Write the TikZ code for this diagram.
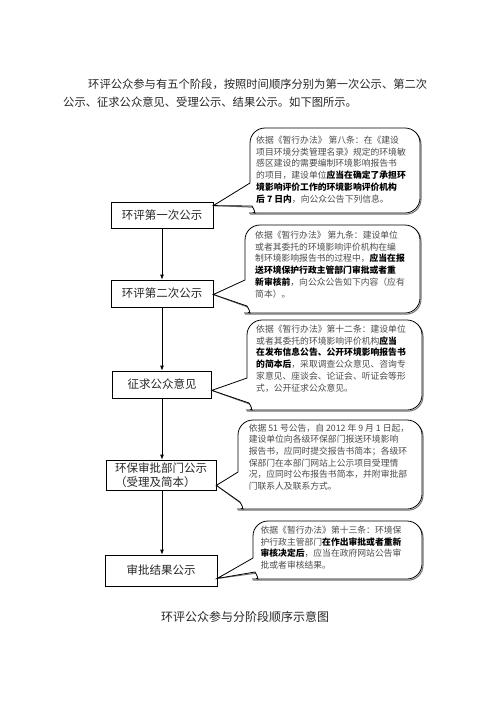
\documentclass[tikz,border=0pt]{standalone}
\usepackage{fontspec}
\setmainfont{Noto Sans CJK SC}
\usetikzlibrary{arrows.meta,calc}
\newcommand{\hl}[1]{{\bfseries\color{black}#1}}
\newcommand{\drawbubble}[6]{%
  \draw[bubbleshadow] (#1) -- (#2,#6) -- (#2,#6-1) {[rounded corners=15pt] -- (#2,#3) -- (#4,#3) -- (#4,#5) -- (#2+14,#5)} .. controls (#2+6,#5) .. (#2+2,#5-7) -- cycle;
  \draw[bubbleline] (#1) -- (#2,#6) -- (#2,#6-1) {[rounded corners=15pt] -- (#2,#3) -- (#4,#3) -- (#4,#5) -- (#2+14,#5)} .. controls (#2+6,#5) .. (#2+2,#5-7) -- cycle;
}
\begin{document}
\begin{tikzpicture}[x=1pt,y=-1pt,
  box/.style={draw=black, line width=0.8pt, inner sep=2pt, text=black!85,
    font=\fontsize{11.5}{14}\selectfont},
  arr/.style={draw=black, line width=0.8pt, -{Latex[length=5pt,width=4pt]}},
  bubbleline/.style={draw=black, line width=0.8pt, fill=white},
  bubbleshadow/.style={draw=black!55, line width=1pt, shift={(1,1.2)}},
  ctext/.style={align=left, inner sep=0pt, text=black!70,
    font=\fontsize{8.8}{11.7}\selectfont},
  plain/.style={text=black!85, inner sep=0pt}]
\useasboundingbox (0,0) rectangle (496,702);

% intro paragraph
\node[plain, anchor=west, align=left, font=\fontsize{11.3}{18}\selectfont] (intro) at (63,93.5)
  {\hspace*{25pt}环评公众参与有五个阶段，按照时间顺序分别为第一次公示、第二次\\公示、征求公众意见、受理公示、结果公示。如下图所示。};

% stage boxes
\node[box, minimum width=102pt, minimum height=26pt] (b1) at (162,215) {环评第一次公示};
\node[box, minimum width=102pt, minimum height=27pt] (b2) at (162,293.5) {环评第二次公示};
\node[box, minimum width=99pt, minimum height=27pt] (b3) at (162,384.5) {征求公众意见};
\node[box, minimum width=110pt, minimum height=30pt, align=left] (b4) at (161,475)
  {环保审批部门公示\\（受理及简本）};
\node[box, minimum width=112pt, minimum height=31pt] (b5) at (161,570.5) {审批结果公示};

% arrows
\draw[arr] (b1) -- (b2);
\draw[arr] (b2) -- (b3);
\draw[arr] (b3.south) -- (b4.north -| b3.south);
\draw[arr] (b4.south -| b3.south) -- (b5.north -| b3.south);

% pointer tips
\coordinate (p1) at ($(b1.north east)+(0,4)$);
\coordinate (p2) at ($(b2.east)+(0,1)$);
\coordinate (p3) at ($(b3.south east)+(0,-8)$);
\coordinate (p4) at ($(b4.south east)+(0,-5)$);
\coordinate (p5) at ($(b5.south east)+(0,-8)$);

% callouts
\drawbubble{p1}{250}{128}{420}{213}{183}
\drawbubble{p2}{245}{225}{420}{313}{280}
\drawbubble{p3}{247}{320}{422}{410}{378}
\drawbubble{p4}{238}{420}{422}{509}{472}
\drawbubble{p5}{253}{521}{422}{579}{558}

\node[ctext] (t1) at (331,169.5) {依据《暂行办法》 第八条：在《建设\\
项目环境分类管理名录》规定的环境敏\\
感区建设的需要编制环境影响报告书\\
的项目，建设单位\hl{应当在确定了承担环}\\
\hl{境影响评价工作的环境影响评价机构}\\
\hl{后 7 日内}，向公众公告下列信息。};

\node[ctext] (t2) at (330,264.5) {依据《暂行办法》 第九条：建设单位\\
或者其委托的环境影响评价机构在编\\
制环境影响报告书的过程中，\hl{应当在报}\\
\hl{送环境保护行政主管部门审批或者重}\\
\hl{新审核前}，向公众公告如下内容（应有\\
简本）。};

\node[ctext] (t3) at (331,358.5) {依据《暂行办法》第十二条：建设单位\\
或者其委托的环境影响评价机构\hl{应当}\\
\hl{在发布信息公告、公开环境影响报告书}\\
\hl{的简本后}，采取调查公众意见、咨询专\\
家意见、座谈会、论证会、听证会等形\\
式，公开征求公众意见。};

\node[ctext] (t4) at (329,457) {依据 51 号公告，自 2012 年 9 月 1 日起，\\
建设单位向各级环保部门报送环境影响\\
报告书，应同时提交报告书简本；各级环\\
保部门在本部门网站上公示项目受理情\\
况，应同时公布报告书简本，并附审批部\\
门联系人及联系方式。};

\node[ctext] (t5) at (331,547.5) {依据《暂行办法》第十三条：环境保\\
护行政主管部门\hl{在作出审批或者重新}\\
\hl{审核决定后}，应当在政府网站公告审\\
批或者审核结果。};

% caption
\node[plain, font=\fontsize{12}{14}\selectfont] (cap) at (245,617) {环评公众参与分阶段顺序示意图};
\end{tikzpicture}
\end{document}
